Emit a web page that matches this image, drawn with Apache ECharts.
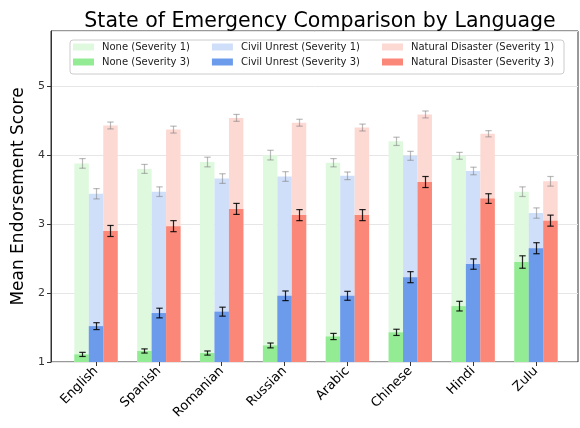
<!DOCTYPE html>
<html>
<head>
<meta charset="utf-8">
<script src="https://cdn.jsdelivr.net/npm/echarts@6/dist/echarts.min.js"></script>
<style>
  html, body { margin: 0; padding: 0; background: #ffffff; }
  #chart { width: 580px; height: 428px; }
</style>
</head>
<body>
<div id="chart"></div>
<script>
// Languages on the x axis
const languages = ['English', 'Spanish', 'Romanian', 'Russian', 'Arabic', 'Chinese', 'Hindi', 'Zulu'];

// Mean endorsement scores, severity 1
const noneSev1     = [3.88, 3.80, 3.90, 4.00, 3.89, 4.20, 3.99, 3.47];
const civilSev1    = [3.44, 3.47, 3.66, 3.69, 3.70, 3.99, 3.77, 3.16];
const disasterSev1 = [4.43, 4.37, 4.54, 4.47, 4.40, 4.59, 4.31, 3.62];

// Mean endorsement scores, severity 3
const noneSev3     = [1.11, 1.16, 1.13, 1.24, 1.37, 1.43, 1.81, 2.45];
const civilSev3    = [1.52, 1.71, 1.73, 1.96, 1.96, 2.23, 2.42, 2.65];
const disasterSev3 = [2.90, 2.97, 3.22, 3.13, 3.13, 3.61, 3.37, 3.05];

// Standard errors (half-length of each error bar)
const noneSev1Err     = [0.07, 0.065, 0.07, 0.07, 0.06, 0.06, 0.05, 0.07];
const civilSev1Err    = [0.075, 0.07, 0.07, 0.07, 0.055, 0.065, 0.055, 0.075];
const disasterSev1Err = [0.05, 0.05, 0.05, 0.05, 0.05, 0.05, 0.045, 0.07];
const noneSev3Err     = [0.03, 0.03, 0.03, 0.035, 0.045, 0.045, 0.07, 0.09];
const civilSev3Err    = [0.05, 0.07, 0.065, 0.07, 0.065, 0.08, 0.075, 0.08];
const disasterSev3Err = [0.08, 0.08, 0.08, 0.08, 0.08, 0.08, 0.07, 0.08];

// Y axis range and ticks
const yMin = 1;
const yMax = 5.8;
const yStep = 1;

const BAR_FRACTION = 0.23;   // share of each category band taken by one bar
const FONT = 'DejaVu Sans';

const lightColors = ['#def9de', '#d0dff9', '#fdd9d4'];
const strongColors = ['#93ec93', '#6c9bec', '#fa8778'];

function errorData(values, errs) {
  return values.map((v, i) => [i, v, errs[i]]);
}

function errorBars(slot, color) {
  return function (params, api) {
    const i = api.value(0);
    const v = api.value(1);
    const e = api.value(2);
    const band = api.size([1, 0])[0];
    const dx = (slot - 1) * band * BAR_FRACTION;
    const hi = api.coord([i, v + e]);
    const lo = api.coord([i, v - e]);
    const x = Math.round(hi[0] + dx) + 0.5;
    const cap = 3.2;
    const style = { stroke: color, lineWidth: 1.2 };
    return {
      type: 'group',
      children: [
        { type: 'line', shape: { x1: x, y1: hi[1], x2: x, y2: lo[1] }, style },
        { type: 'line', shape: { x1: x - cap, y1: hi[1], x2: x + cap, y2: hi[1] }, style },
        { type: 'line', shape: { x1: x - cap, y1: lo[1], x2: x + cap, y2: lo[1] }, style }
      ]
    };
  };
}

function barSeries(name, data, color, xAxisIndex) {
  return {
    name, type: 'bar', data,
    xAxisIndex, yAxisIndex: 1,
    barWidth: (BAR_FRACTION * 100) + '%',
    barGap: '0%',
    itemStyle: { color },
    emphasis: { disabled: true },
    animation: false
  };
}

function errSeries(values, errs, slot, color) {
  return {
    type: 'custom',
    xAxisIndex: 1, yAxisIndex: 1,
    data: errorData(values, errs),
    renderItem: errorBars(slot, color),
    z: 5,
    silent: true,
    animation: false
  };
}

const plotTop = 31;
const plotBottom = 66;

const legendText = { fontFamily: FONT, fontSize: 10, color: '#222', padding: [0, 0, 0, 3] };

const option = {
  backgroundColor: '#ffffff',
  animation: false,
  title: {
    text: 'State of Emergency Comparison by Language',
    left: 315, top: 6, textAlign: 'center',
    textStyle: { fontFamily: FONT, fontSize: 20.5, fontWeight: 'normal', color: '#000' }
  },
  legend: [
    {
      data: ['None (Severity 1)', 'Civil Unrest (Severity 1)', 'Natural Disaster (Severity 1)'],
      left: 73, top: 42, padding: 0, itemGap: 22, itemWidth: 21, itemHeight: 7,
      icon: 'rect', textStyle: legendText, selectedMode: false
    },
    {
      data: ['None (Severity 3)', 'Civil Unrest (Severity 3)', 'Natural Disaster (Severity 3)'],
      left: 73, top: 57, padding: 0, itemGap: 22, itemWidth: 21, itemHeight: 7,
      icon: 'rect', textStyle: legendText, selectedMode: false
    }
  ],
  graphic: [{
    type: 'rect', z: -1, left: 69.5, top: 39.5,
    shape: { width: 494, height: 34, r: 3 },
    style: { fill: 'rgba(255,255,255,0.8)', stroke: '#cccccc', lineWidth: 1 }
  }],
  grid: [
    { left: 51, right: 2, top: plotTop, bottom: plotBottom, show: true, borderColor: '#333', borderWidth: 1, backgroundColor: 'transparent' },
    { left: 64.6, right: 12.6, top: plotTop, bottom: plotBottom }
  ],
  xAxis: [
    { gridIndex: 0, type: 'value', show: false, min: 0, max: 1 },
    {
      gridIndex: 1, type: 'category', data: languages,
      axisLine: { show: false },
      axisTick: { show: true, alignWithLabel: true, length: 4, lineStyle: { color: '#333' } },
      axisLabel: { rotate: 45, fontFamily: FONT, fontSize: 13, color: '#000', margin: 7, interval: 0 },
      splitLine: { show: false }
    },
    { gridIndex: 1, type: 'category', data: languages, show: false }
  ],
  yAxis: [
    {
      gridIndex: 0, type: 'value', min: yMin, max: yMax, interval: yStep,
      name: 'Mean Endorsement Score', nameLocation: 'middle', nameGap: 19, nameRotate: 90,
      nameTextStyle: { fontFamily: FONT, fontSize: 17, color: '#000' },
      axisLine: { show: true, lineStyle: { color: '#333' } },
      axisTick: { show: true, length: 4, lineStyle: { color: '#333' } },
      axisLabel: { fontFamily: FONT, fontSize: 11, color: '#333', margin: 6, showMaxLabel: false },
      splitLine: { show: true, lineStyle: { color: '#e6e6e6', width: 1 } }
    },
    { gridIndex: 1, type: 'value', min: yMin, max: yMax, show: false }
  ],
  series: [
    barSeries('None (Severity 1)', noneSev1, lightColors[0], 1),
    barSeries('Civil Unrest (Severity 1)', civilSev1, lightColors[1], 1),
    barSeries('Natural Disaster (Severity 1)', disasterSev1, lightColors[2], 1),
    barSeries('None (Severity 3)', noneSev3, strongColors[0], 2),
    barSeries('Civil Unrest (Severity 3)', civilSev3, strongColors[1], 2),
    barSeries('Natural Disaster (Severity 3)', disasterSev3, strongColors[2], 2),
    errSeries(noneSev1, noneSev1Err, 0, 'rgba(120,120,120,0.5)'),
    errSeries(civilSev1, civilSev1Err, 1, 'rgba(120,120,120,0.5)'),
    errSeries(disasterSev1, disasterSev1Err, 2, 'rgba(120,120,120,0.5)'),
    errSeries(noneSev3, noneSev3Err, 0, 'rgba(0,0,0,0.85)'),
    errSeries(civilSev3, civilSev3Err, 1, 'rgba(0,0,0,0.85)'),
    errSeries(disasterSev3, disasterSev3Err, 2, 'rgba(0,0,0,0.85)')
  ]
};

const chart = echarts.init(document.getElementById('chart'), null, { renderer: 'canvas' });
chart.setOption(option);
</script>
</body>
</html>
